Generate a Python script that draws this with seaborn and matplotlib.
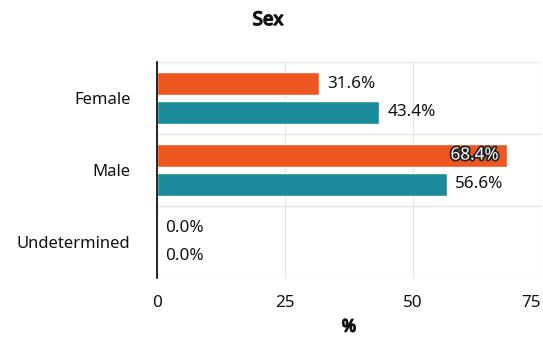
import matplotlib
matplotlib.use("Agg")
import matplotlib.pyplot as plt
import matplotlib.patheffects as pe
import seaborn as sns
import pandas as pd

categories = ["Female", "Male", "Undetermined"]
series_names = ["Cases", "Population"]
cases_pct = [31.6, 68.4, 0.0]
population_pct = [43.4, 56.6, 0.0]
x_ticks = [0, 25, 50, 75]
palette = ["#EE561F", "#1B8A9B"]

df = pd.DataFrame({
    "Sex": categories * 2,
    "Group": [series_names[0]] * 3 + [series_names[1]] * 3,
    "Percent": cases_pct + population_pct,
})

sns.set_theme(style="white")
plt.rcParams["font.family"] = ["Noto Sans", "DejaVu Sans"]

# heavier strokes to give the regular face a bold look
bold_fx = [pe.withStroke(linewidth=1.0, foreground="#111111")]

fig = plt.figure(figsize=(5.43, 3.42), dpi=100)
ax = fig.add_axes([157 / 543, 1 - 278 / 342, 384 / 543, 216 / 342])

sns.barplot(data=df, y="Sex", x="Percent", hue="Group", order=categories,
            hue_order=series_names, palette=palette, orient="h",
            width=0.8, gap=0.2, saturation=1, legend=False, ax=ax)

ax.set_xlim(0, 75)
ax.set_ylim(2.5, -0.5)
ax.set_xticks(x_ticks)
ax.set_xticklabels([str(t) for t in x_ticks])
ax.get_xticklabels()[-1].set_ha("right")

# grid lines: vertical at ticks, horizontal separators between categories
for t in x_ticks:
    ax.axvline(t, color="#E6E6E6", lw=1, zorder=0)
for y in [-0.5, 0.5, 1.5, 2.5]:
    ax.axhline(y, color="#E6E6E6", lw=1, zorder=0)

for s in ["top", "right", "bottom"]:
    ax.spines[s].set_visible(False)
ax.spines["left"].set_color("black")
ax.spines["left"].set_linewidth(1.2)
ax.spines["left"].set_zorder(5)

ax.tick_params(axis="y", length=0, pad=19, labelsize=12, labelcolor="#111111")
ax.tick_params(axis="x", length=0, pad=12, labelsize=12.3, labelcolor="#111111")
ax.set_ylabel("")
xl = ax.set_xlabel("%", fontsize=12.5, labelpad=5, color="#111111")
xl.set_path_effects(bold_fx)
fig.text(268 / 543, 1 - 20 / 342, "Sex", ha="center", va="center",
         fontsize=13.5, color="#111111", path_effects=bold_fx)

# value labels
for container in ax.containers:
    for bar in container:
        w = bar.get_width()
        yc = bar.get_y() + bar.get_height() / 2
        label = f"{w:.1f}%"
        if w > 60:
            ax.text(w - 1.6, yc, label, ha="right", va="center", fontsize=12.3,
                    color="white",
                    path_effects=[pe.withStroke(linewidth=2.5, foreground="#222222")])
        else:
            ax.text(w + 1.6, yc, label, ha="left", va="center", fontsize=12.3,
                    color="#111111")

fig.savefig("out.png", dpi=100)
